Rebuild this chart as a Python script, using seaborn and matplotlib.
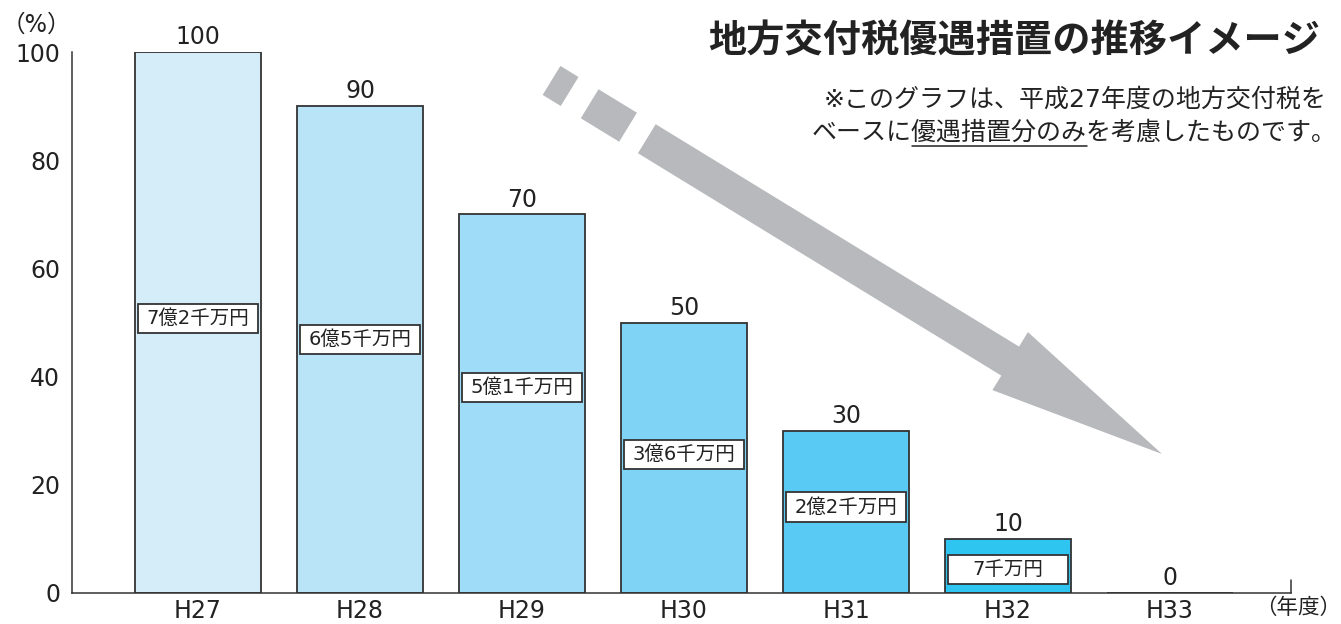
import matplotlib
matplotlib.use('Agg')
import matplotlib.pyplot as plt
import numpy as np
import pandas as pd
import seaborn as sns
from matplotlib.patches import Polygon, Rectangle

# data
years = ['H27', 'H28', 'H29', 'H30', 'H31', 'H32', 'H33']
ratio = [100, 90, 70, 50, 30, 10, 0]
amounts = ['7億2千万円', '6億5千万円', '5億1千万円', '3億6千万円', '2億2千万円', '7千万円']
bar_colors = ['#d5ecf9', '#b9e4f8', '#9edcf7', '#7fd3f5', '#59caf3', '#2ec5f1', '#10bdee']

# vertical spot of the amount boxes inside each bar (y units)
box_y = [50.8, 46.9, 38.0, 25.6, 15.9, 4.3]

sns.set_style('white')
plt.rcParams['font.family'] = ['DejaVu Sans', 'Noto Sans CJK JP']

W, H = 1341, 624
fig = plt.figure(figsize=(W / 100, H / 100), dpi=100)
ax = fig.add_axes([72 / W, 1 - 593 / H, (1291 - 72) / W, (593 - 52) / H])
ax.patch.set_visible(False)

df = pd.DataFrame({'year': years, 'ratio': ratio})
sns.barplot(data=df, x='year', y='ratio', hue='year', palette=bar_colors,
            legend=False, width=0.778, edgecolor='#333333', linewidth=1.3,
            saturation=1, ax=ax)

# value on top of each bar
for i, v in enumerate(ratio):
    ax.annotate(str(v), (i, v), xytext=(0, 2), textcoords='offset points',
                ha='center', va='bottom', fontsize=17, color='#222222',
                annotation_clip=False)

# amount boxes
for i, txt in enumerate(amounts):
    ax.add_patch(Rectangle((i - 0.37, box_y[i] - 2.7), 0.74, 5.4,
                           facecolor='white', edgecolor='#333333', lw=1.3, zorder=5))
    ax.text(i, box_y[i], txt, ha='center', va='center', fontsize=14,
            color='#222222', zorder=6)

ax.set_xlim(-0.778, 6.747)
ax.set_ylim(0, 100)
ax.set_yticks([0, 20, 40, 60, 80, 100])
ax.set_xlabel('')
ax.set_ylabel('')
ax.tick_params(axis='y', direction='in', length=15.8, width=1.1, color='#333333',
               pad=8.6, labelsize=17, labelcolor='#222222')
ax.tick_params(axis='x', length=0, pad=4, labelsize=17, labelcolor='#222222')
sns.despine(ax=ax)
for s in ['left', 'bottom']:
    ax.spines[s].set_color('#333333')
    ax.spines[s].set_linewidth(1.1)
ax.plot([1, 1], [0, 13 / 541], transform=ax.transAxes, color='#333333',
        lw=1.1, clip_on=False)

fig.text(1341 / W, 1 - 608 / H, '（年度）', ha='right', va='center', fontsize=15.5, color='#222222')
fig.text(2 / W, 1 - 25 / H, '（%）', ha='left', va='center', fontsize=17, color='#222222')

# title and note
fig.text(1320 / W, 1 - 42 / H, '地方交付税優遇措置の推移イメージ', ha='right', va='center',
         fontsize=27.5, fontweight='bold', color='#222222')
fig.text(1327 / W, 1 - 100 / H, '※このグラフは、平成27年度の地方交付税を', ha='right',
         va='center', fontsize=18, color='#222222')
line2 = fig.text(1337 / W, 1 - 133 / H, 'ベースに優遇措置分のみを考慮したものです。', ha='right',
                 va='center', fontsize=18, color='#222222')

# underline under 優遇措置分のみ (chars 4..11 of 21 full-width chars)
fig.canvas.draw()
bb = line2.get_window_extent()
ux0 = bb.x0 + bb.width * 4 / 21
ux1 = bb.x0 + bb.width * 11 / 21
fig.add_artist(plt.Line2D([ux0 / W, ux1 / W], [1 - 146 / H, 1 - 146 / H],
                          transform=fig.transFigure, color='#222222', lw=1.1))

# big gray arrow (pixel geometry, y pointing down)
u = np.array([0.853, 0.522])
u = u / np.linalg.norm(u)
n = np.array([-u[1], u[0]])
tip = np.array([1162.0, 454.0])


def pt(s, off):
    p = tip - s * u + off * n
    return (p[0] / W, 1 - p[1] / H)


arrow_col = '#b8b9bc'
head = [pt(0, 0), pt(178, 34), pt(178, 17), pt(604, 17),
        pt(604, -17), pt(178, -17), pt(178, -34)]
fig.add_artist(Polygon(head, closed=True, transform=fig.transFigure,
                       facecolor=arrow_col, edgecolor='none', zorder=-1))
for s0, s1 in [(626, 671), (694.5, 715.7)]:
    seg = [pt(s0, 17), pt(s1, 17), pt(s1, -17), pt(s0, -17)]
    fig.add_artist(Polygon(seg, closed=True, transform=fig.transFigure,
                           facecolor=arrow_col, edgecolor='none', zorder=-1))

fig.savefig('out.png', dpi=100)
